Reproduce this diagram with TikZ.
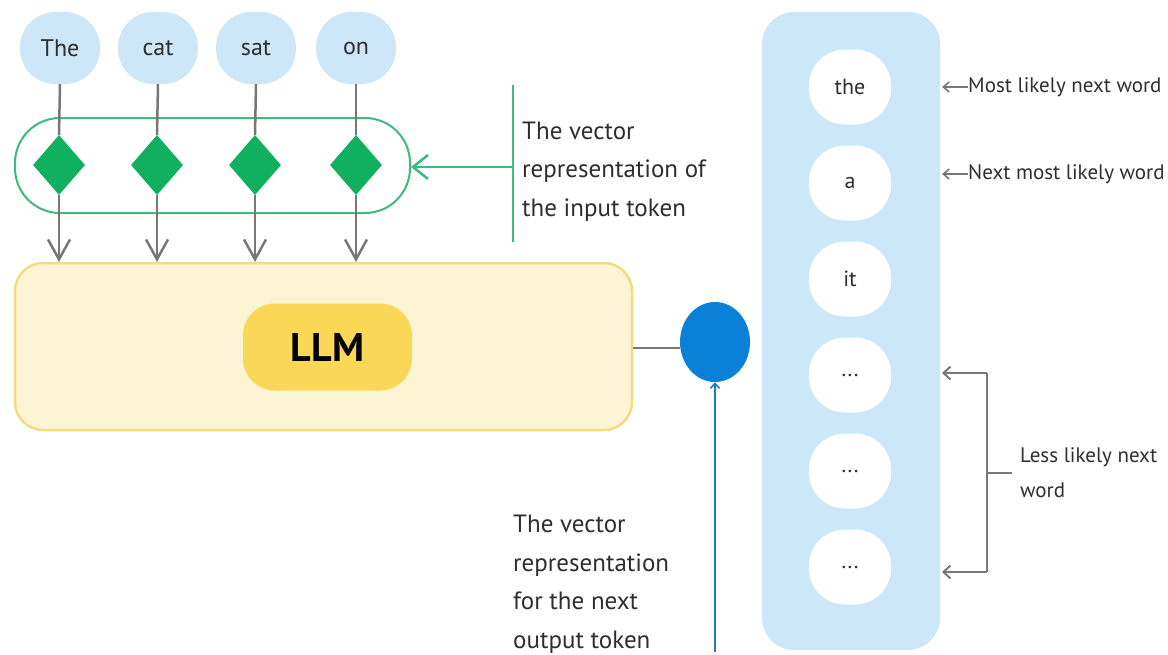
\documentclass[tikz,border=0pt]{standalone}
\usepackage{fontspec}
\setmainfont{PT Sans}
\usetikzlibrary{shapes.geometric,arrows.meta}
\definecolor{tokblue}{HTML}{CDE7F8}
\definecolor{panelblue}{HTML}{CBE7F8}
\definecolor{vgreen}{HTML}{10B060}
\definecolor{vgreenline}{HTML}{3DBB7E}
\definecolor{llmfill}{HTML}{FDF4D6}
\definecolor{llmdraw}{HTML}{F1DC80}
\definecolor{pill}{HTML}{FBD757}
\definecolor{outblue}{HTML}{0A80D8}
\definecolor{arrblue}{HTML}{1A80B6}
\definecolor{conngray}{HTML}{777777}
\definecolor{txt}{HTML}{2E2E2E}
\tikzset{
  x=1pt, y=-1pt,
  token/.style={fill=tokblue, rounded corners=35pt, minimum width=80pt, minimum height=72pt, inner sep=0pt, font=\fontsize{24}{28}\selectfont, text=txt},
  word/.style={fill=white, rounded corners=36pt, minimum width=82pt, minimum height=75pt, inner sep=0pt, font=\fontsize{22}{26}\selectfont, text=txt},
  vec/.style={diamond, fill=vgreen, minimum width=52pt, minimum height=60pt, inner sep=0pt, aspect=0.87},
  garrow/.style={draw=conngray, line width=2.5pt, -{Straight Barb[length=20pt,width=22pt,line width=2.5pt]}},
  sarrow/.style={draw=conngray, line width=1.6pt, -{Straight Barb[length=6pt,width=10pt,line width=1.6pt]}},
  lbl/.style={font=\fontsize{25}{38.5}\selectfont, text=txt, align=left, inner sep=0pt},
  slbl/.style={font=\fontsize{21}{35}\selectfont, text=txt, align=left, inner sep=0pt},
}
\begin{document}
\begin{tikzpicture}
\useasboundingbox (0,0) rectangle (1168,654);
% tokens
\node[token] (t1) at (60,48) {The};
\node[token] (t2) at (158,48) {cat};
\node[token] (t3) at (256,48) {sat};
\node[token] (t4) at (356,48) {on};
% green box
\node[draw=vgreenline, line width=2pt, rounded corners=45pt, minimum width=395pt, minimum height=95pt, inner sep=0pt] (vbox) at (212.5,165.5) {};
\node[vec] (d1) at (59,165) {};
\node[vec] (d2) at (157,165) {};
\node[vec] (d3) at (255,165) {};
\node[vec] (d4) at (356,165) {};
% LLM box
\node[draw=llmdraw, fill=llmfill, line width=2.5pt, rounded corners=28pt, minimum width=617pt, minimum height=167pt, inner sep=0pt] (llm) at (323.5,346.5) {};
\node[fill=pill, rounded corners=32pt, minimum width=169pt, minimum height=87pt, inner sep=0pt, font=\bfseries\fontsize{40}{44}\selectfont, text=black] (pill) at (327.5,347) {LLM};
% token arrows
\foreach \i/\x in {1/59,2/157,3/255,4/356}{
  \draw[conngray, line width=2.5pt] (t\i.south) -- (d\i.north);
  \draw[garrow] (d\i.south) -- (\x,262);
}
% vector label
\coordinate (gtop) at (513,85);
\coordinate (gbot) at (513,242);
\draw[vgreenline, line width=2pt] (gtop) -- (gbot);
\coordinate (gmid) at (513,167);
\draw[draw=vgreenline, line width=2.5pt, -{Straight Barb[length=15pt,width=24pt,line width=2.5pt]}] (gmid) -- (vbox.east |- gmid);
\node[lbl, anchor=base west] (vlabel) at (522,216) {The vector\\representation of\\the input token};
% output circle
\node[ellipse, fill=outblue, minimum width=70pt, minimum height=80pt, inner sep=0pt] (out) at (715,342) {};
\draw[conngray, line width=2pt] (llm.east |- 0,348) -- (out.west |- 0,348);
\coordinate (bstart) at (715,652);
\draw[arrblue, line width=2pt, -{Straight Barb[length=5pt,width=9pt,line width=1.6pt]}] (bstart) -- (out.south);
\node[lbl, anchor=base west] (olabel) at (513,648) {The vector\\representation\\for the next\\output token};
% right panel
\node[fill=panelblue, rounded corners=32pt, minimum width=178pt, minimum height=638pt, inner sep=0pt] (panel) at (851,331) {};
\node[word] (w1) at (850,87) {the};
\node[word] (w2) at (850,183) {a};
\node[word] (w3) at (850,279) {it};
\node[word] (w4) at (850,375) {...};
\node[word] (w5) at (850,471) {...};
\node[word] (w6) at (850,567) {...};
% right labels
\node[slbl, anchor=west] (l1) at (968,87) {Most likely next word};
\node[slbl, anchor=west] (l2) at (968,174) {Next most likely word};
\draw[sarrow] (l1.west) -- (942,87);
\draw[sarrow] (l2.west) -- (942,174);
\coordinate (bt) at (987,373);
\coordinate (bb) at (987,572);
\coordinate (bm) at (987,473);
\coordinate (bmr) at (1012,473);
\draw[conngray, line width=2pt] (bt) -- (bb);
\draw[conngray, line width=2pt, -{Straight Barb[length=7pt,width=13pt,line width=2pt]}] (bt) -- (942,373);
\draw[conngray, line width=2pt, -{Straight Barb[length=7pt,width=13pt,line width=2pt]}] (bb) -- (942,572);
\draw[conngray, line width=2pt] (bm) -- (bmr);
\node[slbl, anchor=base west] (l3) at (1020,497) {Less likely next\\word};
\end{tikzpicture}
\end{document}
